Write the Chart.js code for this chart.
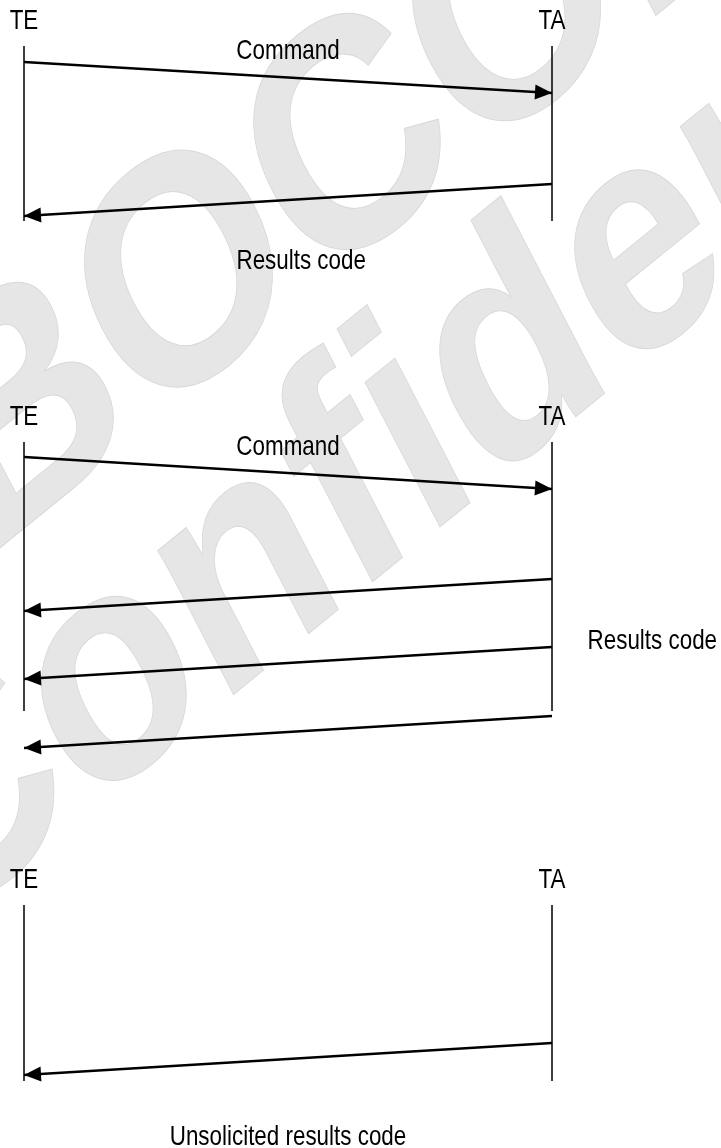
<!DOCTYPE html>
<html>
<head>
<meta charset="utf-8">
<script src="https://cdn.jsdelivr.net/npm/chart.js@4.4.1/dist/chart.umd.min.js"></script>
<style>
  html, body { margin: 0; padding: 0; background: #fff; overflow: hidden; }
  #wrap { width: 721px; height: 1148px; }
</style>
</head>
<body>
<div id="wrap"><canvas id="seq" width="721" height="1148"></canvas></div>
<script>
// two participants, lane 0 = TE, lane 1 = TA
var participants = ['TE', 'TA'];
var lanes = [0, 1];

// three panels, times read top-down (1 unit = 1 px of the original)
var lifeStart = [46, 442, 905];
var lifeEnd = [221, 711, 1081];
var nameTime = [29, 425, 888];

// messages
var msgFrom = [0, 1, 0, 1, 1, 1, 1];
var msgTo = [1, 0, 1, 0, 0, 0, 0];
var msgSend = [62, 184, 457, 579, 647, 716, 1043];
var msgRecv = [93, 216, 489, 611, 679, 748, 1075];

// message captions
var captions = ['Command', 'Results code', 'Command', 'Results code', 'Unsolicited results code'];
var captionLane = [0.5, 0.525, 0.5, 1.19, 0.5];
var captionTime = [59, 269, 455, 649, 1145];

// watermark
var watermark = ['BOCOM', 'Confidential'];

var datasets = [];
for (var p = 0; p < lifeStart.length; p++) {
    for (var l = 0; l < lanes.length; l++) {
        datasets.push({
            kind: 'life',
            data: [{x: lanes[l], y: lifeStart[p]}, {x: lanes[l], y: lifeEnd[p]}],
            showLine: true,
            borderColor: '#000',
            borderWidth: 1.5,
            pointRadius: 0
        });
    }
}
for (var m = 0; m < msgSend.length; m++) {
    datasets.push({
        kind: 'msg',
        data: [{x: lanes[msgFrom[m]], y: msgSend[m]}, {x: lanes[msgTo[m]], y: msgRecv[m]}],
        showLine: true,
        borderColor: '#000',
        borderWidth: 2.6,
        borderCapStyle: 'butt',
        pointRadius: 0
    });
}

// the whole page looks squeezed sideways, text too
function drawText(ctx, txt, x, y) {
    ctx.save();
    ctx.translate(x, y);
    ctx.scale(0.8, 1);
    ctx.fillText(txt, 0, 0);
    ctx.restore();
}

var watermarkPlugin = {
    id: 'watermark',
    beforeDatasetsDraw: function (chart) {
        var ctx = chart.ctx;
        ctx.save();
        ctx.translate(-15, 560);
        ctx.scale(0.8, 1);
        ctx.rotate(-33 * Math.PI / 180);
        ctx.font = 'bold 326px "Liberation Sans"';
        ctx.textAlign = 'left';
        ctx.textBaseline = 'alphabetic';
        ctx.fillStyle = '#e6e6e6';
        ctx.strokeStyle = '#d8d8d8';
        ctx.lineWidth = 1;
        var shift = [0, -270];
        var gap = [0, 282];
        for (var i = 0; i < watermark.length; i++) {
            ctx.fillText(watermark[i], shift[i], gap[i]);
            ctx.strokeText(watermark[i], shift[i], gap[i]);
        }
        ctx.restore();
    }
};

var seqPlugin = {
    id: 'seq',
    afterDatasetsDraw: function (chart) {
        var ctx = chart.ctx;
        var xs = chart.scales.x, ys = chart.scales.y;
        ctx.save();
        // arrow heads
        ctx.fillStyle = '#000';
        chart.data.datasets.forEach(function (ds) {
            if (ds.kind !== 'msg') return;
            var a = ds.data[0], b = ds.data[1];
            var x0 = xs.getPixelForValue(a.x), y0 = ys.getPixelForValue(a.y);
            var x1 = xs.getPixelForValue(b.x), y1 = ys.getPixelForValue(b.y);
            var ang = Math.atan2(y1 - y0, x1 - x0);
            var len = 17, half = 7.5;
            ctx.beginPath();
            ctx.moveTo(x1, y1);
            ctx.lineTo(x1 - len * Math.cos(ang) + half * Math.sin(ang), y1 - len * Math.sin(ang) - half * Math.cos(ang));
            ctx.lineTo(x1 - len * Math.cos(ang) - half * Math.sin(ang), y1 - len * Math.sin(ang) + half * Math.cos(ang));
            ctx.closePath();
            ctx.fill();
        });
        // texts
        ctx.font = '28px "Liberation Sans", Arial, sans-serif';
        ctx.textAlign = 'center';
        ctx.textBaseline = 'alphabetic';
        for (var p = 0; p < nameTime.length; p++) {
            for (var l = 0; l < participants.length; l++) {
                drawText(ctx, participants[l], xs.getPixelForValue(lanes[l]), ys.getPixelForValue(nameTime[p]));
            }
        }
        for (var c = 0; c < captions.length; c++) {
            drawText(ctx, captions[c], xs.getPixelForValue(captionLane[c]), ys.getPixelForValue(captionTime[c]));
        }
        ctx.restore();
    }
};

new Chart(document.getElementById('seq'), {
    type: 'scatter',
    data: { datasets: datasets },
    options: {
        responsive: false,
        animation: false,
        devicePixelRatio: 1,
        layout: { padding: 0 },
        scales: {
            x: { type: 'linear', display: false, min: -24 / 528, max: 697 / 528 },
            y: { type: 'linear', display: false, min: 0, max: 1148, reverse: true }
        },
        plugins: {
            legend: { display: false },
            tooltip: { enabled: false }
        }
    },
    plugins: [watermarkPlugin, seqPlugin]
});
</script>
</body>
</html>
